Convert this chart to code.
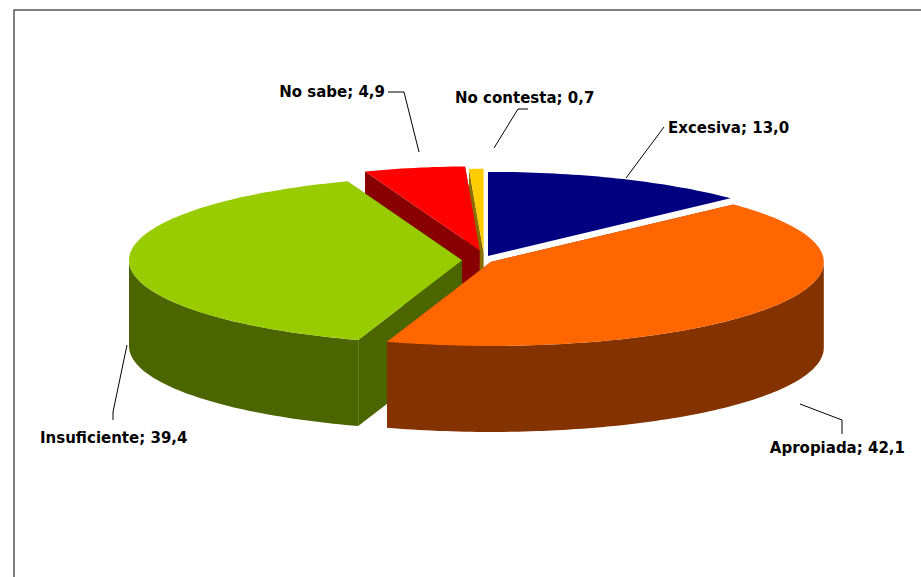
import React from "react";

const categories = ["Excesiva", "Apropiada", "Insuficiente", "No sabe", "No contesta"];
const values = [13.0, 42.1, 39.4, 4.9, 0.7];
const topColors = ["#000080", "#FF6600", "#99CC00", "#FF0000", "#FFCC00"];
const sideColors = ["#00004a", "#843300", "#4b6600", "#880000", "#8a6d00"];
const explodes = [10, 8, 22, 22, 16];

const W = 921, H = 577;
const cx = 484, cy = 260, rx = 333, ry = 84, depth = 86;

function pt(t: number, ox: number, oy: number, dy = 0): [number, number] {
  return [ox + rx * Math.sin(t), oy - ry * Math.cos(t) + dy];
}
function arcPts(a0: number, a1: number, ox: number, oy: number, dy = 0) {
  const n = Math.max(2, Math.ceil(Math.abs(a1 - a0) / 0.02));
  const r: [number, number][] = [];
  for (let i = 0; i <= n; i++) r.push(pt(a0 + ((a1 - a0) * i) / n, ox, oy, dy));
  return r;
}
const toPath = (ps: [number, number][]) => "M" + ps.map((p) => p[0].toFixed(1) + "," + p[1].toFixed(1)).join("L") + "Z";

export default function App() {
  const total = values.reduce((a, b) => a + b, 0);
  let acc = 0;
  const slices = values.map((v, i) => {
    const a0 = (acc / total) * 2 * Math.PI;
    acc += v;
    const a1 = (acc / total) * 2 * Math.PI;
    const m = (a0 + a1) / 2;
    const ox = cx + explodes[i] * Math.sin(m);
    const oy = cy - explodes[i] * 0.45 * Math.cos(m);
    return { i, a0, a1, ox, oy };
  });
  const faces: { d: string; z: number; fill: string }[] = [];
  slices.forEach((s) => {
    [s.a0, s.a1].forEach((a, j) => {
      // end faces pointing back-right are hidden behind the next slice
      if (j === 1 && Math.sin(a) > 0 && Math.cos(a) > 0) return;
      const e = pt(a, s.ox, s.oy);
      const q: [number, number][] = [[s.ox, s.oy], e, [e[0], e[1] + depth], [s.ox, s.oy + depth]];
      faces.push({ d: toPath(q), z: (s.oy + e[1]) / 2, fill: sideColors[s.i] });
    });
    const lo = Math.max(s.a0, Math.PI / 2), hi = Math.min(s.a1, (3 * Math.PI) / 2);
    if (hi > lo) {
      const top = arcPts(lo, hi, s.ox, s.oy);
      const bot = arcPts(lo, hi, s.ox, s.oy, depth).reverse();
      faces.push({ d: toPath([...top, ...bot]), z: 1000, fill: sideColors[s.i] });
    }
  });
  faces.sort((a, b) => a.z - b.z);
  const fmt = (v: number) => v.toFixed(1).replace(".", ",");
  const labels = [
    { x: 668, y: 133, anchor: "start", line: "M664,127L626,178" },
    { x: 905, y: 453, anchor: "end", line: "M842,434L842,420L800,404" },
    { x: 40, y: 443, anchor: "start", line: "M113,420L113,412L127,345" },
    { x: 385, y: 97, anchor: "end", line: "M388,92L404,92L419,152" },
    { x: 455, y: 103, anchor: "start", line: "M528,109L518,109L494,148" },
  ];
  return (
    <svg width={W} height={H} style={{ position: "absolute", left: 0, top: 0, background: "#fff" }}>
      <rect x={14} y={10} width={W} height={H} fill="#fff" stroke="#000" strokeWidth={1} />
      {faces.map((f, k) => (
        <path key={k} d={f.d} fill={f.fill} />
      ))}
      {slices.map((s) => (
        <path key={"t" + s.i} d={toPath([[s.ox, s.oy], ...arcPts(s.a0, s.a1, s.ox, s.oy)])} fill={topColors[s.i]} />
      ))}
      {labels.map((l, i) => (
        <g key={"l" + i}>
          <path d={l.line} fill="none" stroke="#000" strokeWidth={1} />
          <text x={l.x} y={l.y} textAnchor={l.anchor as any} fontFamily="DejaVu Sans" fontWeight="bold" fontSize={15}>
            {categories[i]}; {fmt(values[i])}
          </text>
        </g>
      ))}
    </svg>
  );
}
